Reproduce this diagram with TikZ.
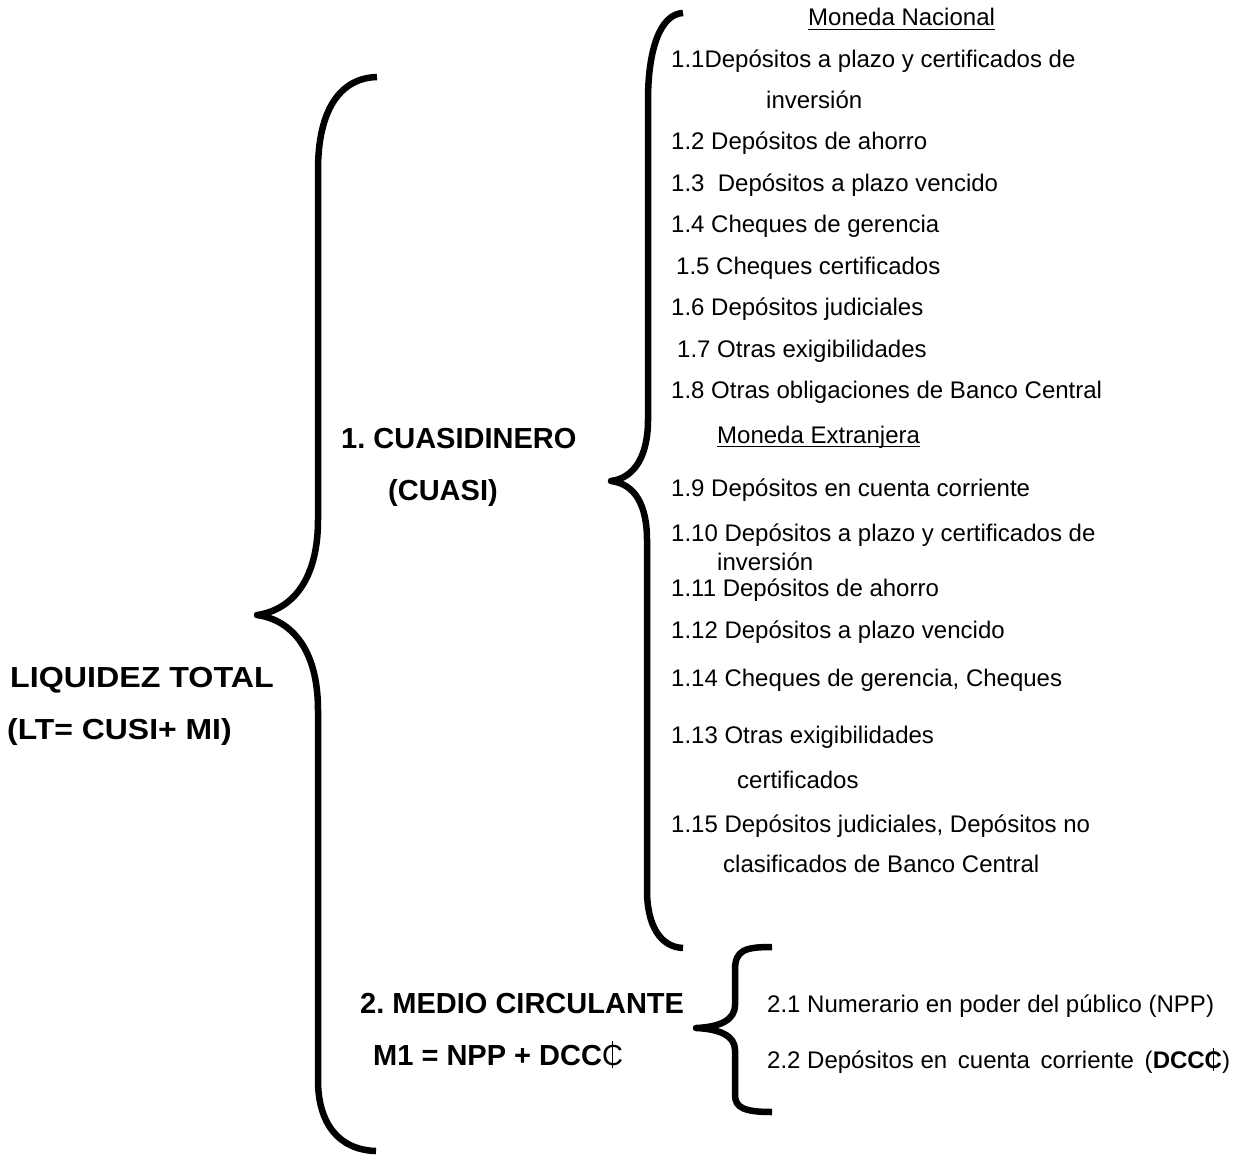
\documentclass[tikz,border=0pt]{standalone}
\usepackage{fontspec}
\setmainfont{Liberation Sans}
\usepackage{graphicx}
\frenchspacing
% colon currency sign: a capital C crossed by a thin vertical stroke
\newcommand{\colonsign}{\ooalign{C\cr\hidewidth\rule[-0.12em]{0.06em}{0.96em}\hidewidth\cr}}
\begin{document}
\begin{tikzpicture}[x=1pt,y=-1pt,
  item/.style={anchor=base west,inner sep=0pt,font=\fontsize{24}{28}\selectfont},
  heading/.style={anchor=base west,inner sep=0pt,font=\fontsize{24}{28}\selectfont},
  title/.style={anchor=base west,inner sep=0pt,font=\fontsize{29}{32}\selectfont\bfseries},
  brace/.style={line width=6.5pt,line join=round}]
\useasboundingbox (0,0) rectangle (1239,1156);

% left-hand titles
\node[title] (lt1) at (10,687) {\scalebox{1.11}[1]{LIQUIDEZ TOTAL}};
\node[title] (lt2) at (7,739) {\scalebox{1.1}[1]{(LT= CUSI+ MI)}};
\node[title] (cu1) at (341,448) {1. CUASIDINERO};
\node[title] (cu2) at (388,500) {(CUASI)};
\node[title] (mc1) at (360,1013) {2. MEDIO CIRCULANTE};
\node[title] (mc2) at (373,1065) {M1 = NPP + DCC{\mdseries\colonsign}};

% braces
\draw[brace] (377,77) .. controls (340,78) and (318,110) .. (318,170)
  -- (318,520) .. controls (318,580) and (292,610) .. (257,615)
  .. controls (292,620) and (318,650) .. (318,710)
  -- (318,1080) .. controls (318,1125) and (340,1150) .. (376,1151);
\draw[brace] (683,13) .. controls (660,14) and (648,50) .. (648,100)
  -- (648,420) .. controls (648,455) and (635,478) .. (611,481)
  .. controls (635,484) and (647,505) .. (647,540)
  -- (647,890) .. controls (647,925) and (660,947) .. (683,948);
\draw[brace] (772,947) .. controls (745,947) and (735,950) .. (735,970)
  -- (735,1005) .. controls (735,1020) and (720,1027) .. (696,1028)
  .. controls (720,1029) and (735,1036) .. (735,1050)
  -- (735,1095) .. controls (735,1108) and (745,1112) .. (772,1112);

% national currency items
\node[heading] (mn) at (808,26) {Moneda Nacional};
\draw[line width=1.8pt] ([yshift=-3.5pt]mn.base west) -- ([yshift=-3.5pt]mn.base east);
\node[item] (i11) at (671,67) {1.1Depósitos a plazo y certificados de};
\node[item] (i11b) at (766,108) {inversión};
\node[item] (i12) at (671,149) {1.2 Depósitos de ahorro};
\node[item] (i13) at (671,191) {1.3\ \ Depósitos a plazo vencido};
\node[item] (i14) at (671,232) {1.4 Cheques de gerencia};
\node[item] (i15) at (676,274) {1.5 Cheques certificados};
\node[item] (i16) at (671,315) {1.6 Depósitos judiciales};
\node[item] (i17) at (677,357) {1.7 Otras exigibilidades};
\node[item] (i18) at (671,398) {1.8 Otras obligaciones de Banco Central};

% foreign currency items
\node[heading] (me) at (717,443) {Moneda Extranjera};
\draw[line width=1.8pt] ([yshift=-3.5pt]me.base west) -- ([yshift=-3.5pt]me.base east);
\node[item] (i19) at (671,496) {1.9 Depósitos en cuenta corriente};
\node[item] (i110) at (671,541) {1.10 Depósitos a plazo y certificados de};
\node[item] (i110b) at (717,570) {inversión};
\node[item] (i111) at (671,596) {1.11 Depósitos de ahorro};
\node[item] (i112) at (671,638) {1.12 Depósitos a plazo vencido};
\node[item] (i114) at (671,686) {1.14 Cheques de gerencia, Cheques};
\node[item] (i113) at (671,743) {1.13 Otras exigibilidades};
\node[item] (i113b) at (737,788) {certificados};
\node[item] (i115) at (671,832) {1.15 Depósitos judiciales, Depósitos no};
\node[item] (i115b) at (723,872) {clasificados de Banco Central};

% money supply items
\node[item] (i21) at (767,1012) {2.1 Numerario en poder del público (NPP)};
\node[item] (i22) at (767,1068) {2.2 Depósitos en\hspace{4pt} cuenta\hspace{4pt} corriente\hspace{4pt} (\textbf{DCC\colonsign})};
\end{tikzpicture}
\end{document}
